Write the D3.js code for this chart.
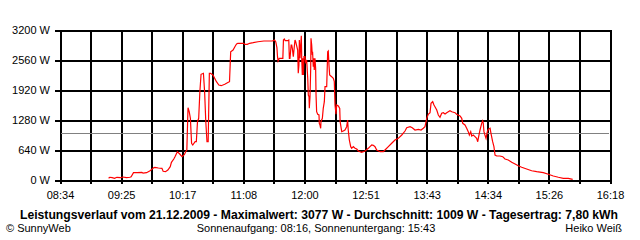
<!DOCTYPE html>
<meta charset="utf-8">
<style>
body { margin: 0; background: #fff; }
svg { display: block; font-family: "Liberation Sans", Arial, sans-serif; }
.grid line { stroke: #000; stroke-width: 2px; shape-rendering: crispEdges; }
.grid path { display: none; }
.grid text { fill: #000; font-size: 11px; font-family: "Liberation Sans", Arial, sans-serif; }
.power { fill: none; stroke: #f00; stroke-width: 1.2px; stroke-linejoin: miter; }
.avg { stroke: #808080; stroke-width: 1px; shape-rendering: crispEdges; }
</style>
<body>
<script src="https://cdn.jsdelivr.net/npm/d3@7"></script>
<script>

// chart values
var times = [
  "09:15","09:16","09:18","09:20","09:22","09:25","09:27","09:30","09:33","09:34",
  "09:36","09:39","09:43","09:44","09:47","09:50","09:53","09:54","09:57","10:00",
  "10:01","10:03","10:05","10:07","10:08","10:10","10:11","10:13","10:15","10:17",
  "10:19","10:20","10:21","10:22","10:23","10:24","10:25","10:26","10:28","10:29",
  "10:30","10:31","10:32","10:33","10:35","10:36","10:37","10:38","10:39","10:40",
  "10:41","10:43","10:46","10:48","10:50","10:53","10:56","10:57","10:58","11:00",
  "11:02","11:03","11:04","11:09","11:10","11:12","11:14","11:17","11:21","11:26",
  "11:31","11:33","11:34","11:35","11:36","11:37","11:37:30","11:38","11:39","11:42",
  "11:42:30","11:43:15","11:44","11:46","11:47","11:47:30","11:48","11:49","11:49:30","11:50",
  "11:50:50","11:51:40","11:52:15","11:52:50","11:54:30","11:55","11:55:35","11:55:55","11:56:30","11:57:05",
  "11:57:35","11:57:55","11:58:25","11:58:50","11:59:20","11:59:50","12:00:40","12:01:20","12:02:05","12:03",
  "12:03:30","12:04:05","12:04:20","12:04:55","12:05:30","12:05:45","12:06:20","12:06:50","12:07:05","12:07:40",
  "12:08:15","12:08:30","12:09:05","12:09:40","12:10","12:10:30","12:11:25","12:12:30","12:12:45","12:13:20",
  "12:13:55","12:14:10","12:15:20","12:16:05","12:17","12:17:35","12:19","12:19:50","12:20:20","12:20:55",
  "12:21:30","12:23:10","12:24:35","12:25:25","12:26","12:26:50","12:27:25","12:28:50","12:30","12:30:20",
  "12:31:40","12:33","12:34:25","12:35:50","12:36:40","12:37:10","12:38:05","12:39:15","12:40:05","12:41:25",
  "12:42:55","12:44:20","12:45:40","12:48:30","12:49:55","12:51:20","12:54:05","12:55:30","12:57","12:58:20",
  "12:59:45","13:01:10","13:04","13:06:50","13:08:10","13:11","13:13:50","13:16:35","13:19:25","13:22:20",
  "13:25:05","13:26:30","13:29:20","13:31:10","13:33:30","13:36:20","13:38:35","13:40:30","13:41:55","13:43:25",
  "13:44:40","13:46:10","13:47","13:48:25","13:49:30","13:50:20","13:51:50","13:53:10","13:54:35","13:56",
  "13:57:25","13:58:50","14:00:15","14:01:35","14:03","14:04:30","14:07:15","14:08:35","14:11:30","14:12:55",
  "14:13:45","14:15:40","14:17:05","14:18:25","14:19:20","14:20:30","14:21:20","14:22:40","14:24:05","14:25:30",
  "14:26:25","14:26:55","14:28:20","14:29:45","14:30:35","14:31:05","14:31:40","14:32:30","14:33:25","14:34:30",
  "14:35:20","14:36:50","14:37:35","14:39","14:40:05","14:41","14:42:25","14:45:10","14:47:30","14:49:25",
  "14:52:10","14:55:05","14:57:55","15:00:35","15:03:30","15:07:40","15:11:55","15:16:10","15:21:45","15:26",
  "15:30:10","15:34:25","15:38:35","15:42:50","15:46:30"
];

var watts = [
  36,58,49,36,58,49,64,49,58,70,
  156,156,164,149,156,198,262,270,256,249,
  185,177,213,284,377,448,497,604,555,497,
  544,604,640,1543,1457,1316,783,747,817,817,
  1244,1316,1884,2255,2276,1884,1244,817,817,2276,
  2276,2240,2097,2027,2012,2041,2084,2097,2737,2773,
  2865,2901,2916,2916,2894,2894,2916,2929,2950,2965,
  2965,2965,2972,2987,2950,2823,2631,2539,2596,2596,
  2987,3008,2972,2972,2987,2596,2596,2880,2880,2809,
  2631,2844,2987,2950,2773,2276,2453,2987,2596,2880,
  3077,2596,2240,2596,2240,2631,2631,2489,2560,2169,
  1813,1777,1529,1777,2383,3023,2880,2667,2737,2417,
  2596,2347,2596,2383,1813,1457,1402,1387,1209,1173,
  1103,1244,1316,1529,1671,1991,1991,2737,2752,2453,
  2240,2204,2169,2097,1600,1402,1600,1579,1529,1244,
  1031,1045,1067,1137,1280,1067,853,711,676,711,
  676,661,619,591,604,619,676,711,747,740,
  711,640,604,604,640,711,783,853,889,960,
  1045,1116,1137,1116,1067,1081,1067,1103,1137,1316,
  1402,1436,1636,1671,1600,1564,1493,1387,1338,1423,
  1436,1408,1436,1457,1479,1457,1436,1402,1365,1316,
  1209,1173,1103,1031,960,1031,939,960,924,889,
  817,889,1067,1209,1259,1209,1031,960,889,1031,
  1081,1103,996,817,711,533,512,512,497,448,
  427,377,341,305,271,235,198,177,156,122,
  85,58,36,36,15
];

var xLabels = ["08:34","09:25","10:17","11:08","12:00","12:51","13:43","14:34","15:26","16:18"];
var yTicks = [0, 640, 1280, 1920, 2560, 3200];
var average = 1009;

var title = "Leistungsverlauf vom 21.12.2009 - Maximalwert: 3077 W - Durchschnitt: 1009 W - Tagesertrag: 7,80 kWh";
var footLeft = "\u00a9 SunnyWeb";
var footMid = "Sonnenaufgang: 08:16, Sonnenuntergang: 15:43";
var footRight = "Heiko Wei\u00df";

function toMin(s) {
  var p = s.split(":").map(Number);
  return p[0] * 60 + p[1] + (p[2] || 0) / 60;
}

var width = 640, height = 240;
var plotLeft = 60, plotRight = 610, plotTop = 30, plotBottom = 180;

var svg = d3.select("body").append("svg")
    .attr("width", width)
    .attr("height", height);

var tStart = toMin(xLabels[0]), tEnd = toMin(xLabels[xLabels.length - 1]);
var x = d3.scaleLinear().domain([tStart, tEnd]).range([plotLeft, plotRight]);
var y = d3.scaleLinear().domain([0, 3200]).range([plotBottom, plotTop]);

// 18 grid columns, every second one labelled
var xGrid = d3.range(19).map(function(i) { return tStart + i * (tEnd - tStart) / 18; });

svg.append("g")
    .attr("class", "grid")
    .attr("transform", "translate(0," + (plotBottom + 4) + ")")
    .call(d3.axisBottom(x)
        .tickValues(xGrid)
        .tickSize(-(plotBottom + 4 - plotTop))
        .tickPadding(7)
        .tickFormat(function(d, i) { return i % 2 == 0 ? xLabels[i / 2] : ""; }));

svg.append("g")
    .attr("class", "grid")
    .attr("transform", "translate(" + (plotLeft - 5) + ",0)")
    .call(d3.axisLeft(y)
        .tickValues(yTicks)
        .tickSize(-(plotRight - plotLeft + 5))
        .tickPadding(5)
        .tickFormat(function(d) { return d + " W"; }));

// average line
svg.append("line")
    .attr("class", "avg")
    .attr("x1", plotLeft + 1).attr("x2", plotRight - 1)
    .attr("y1", Math.round(y(average)) + 0.5)
    .attr("y2", Math.round(y(average)) + 0.5);

var data = times.map(function(t, i) { return {t: toMin(t), w: watts[i]}; });

var line = d3.line()
    .x(function(d) { return x(d.t); })
    .y(function(d) { return y(d.w); });

svg.append("path")
    .datum(data)
    .attr("class", "power")
    .attr("d", line);

// texts under the chart
svg.append("text")
    .attr("x", 319).attr("y", 219)
    .attr("text-anchor", "middle")
    .attr("textLength", 598)
    .attr("lengthAdjust", "spacingAndGlyphs")
    .style("font-size", "12px")
    .style("font-weight", "bold")
    .text(title);

svg.append("text")
    .attr("x", 6).attr("y", 232)
    .style("font-size", "11px")
    .text(footLeft);

svg.append("text")
    .attr("x", 316).attr("y", 232)
    .attr("text-anchor", "middle")
    .style("font-size", "11px")
    .text(footMid);

svg.append("text")
    .attr("x", 622).attr("y", 232)
    .attr("text-anchor", "end")
    .style("font-size", "11px")
    .text(footRight);

</script>
</body>
